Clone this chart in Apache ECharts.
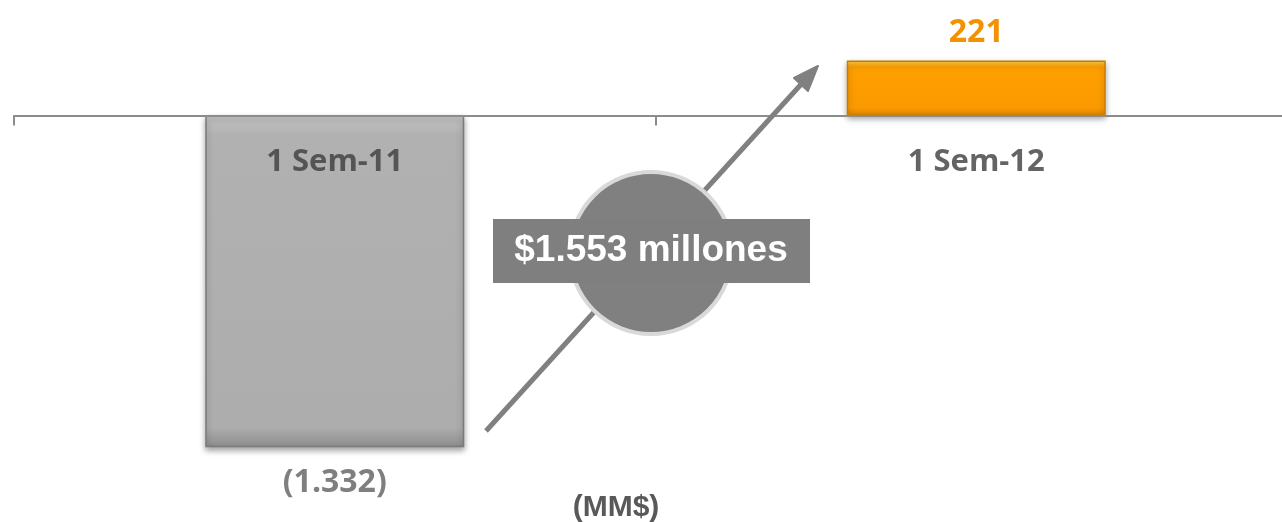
<!DOCTYPE html>
<html>
<head>
<meta charset="utf-8">
<script src="https://cdn.jsdelivr.net/npm/echarts@6/dist/echarts.min.js"></script>
<style>
html,body{margin:0;padding:0;background:#fff;}
#c{width:1282px;height:522px;}
</style>
</head>
<body>
<div id="c"></div>
<script>
const categories = ['1 Sem-11', '1 Sem-12'];
const values = [-1332, 221];
const valueLabels = ['(1.332)', '221'];
const changeLabel = '$1.553 millones';
const unitLabel = '(MM$)';

const chart = echarts.init(document.getElementById('c'));

const greyFill = {type:'linear',x:0,y:0,x2:0,y2:1,colorStops:[{offset:0,color:'#c4c4c4'},{offset:0.06,color:'#b1b1b1'},{offset:0.94,color:'#adadad'},{offset:1,color:'#8e8e8e'}]};
const orangeFill = {type:'linear',x:0,y:0,x2:0,y2:1,colorStops:[{offset:0,color:'#ffcf4a'},{offset:0.12,color:'#ffa000'},{offset:0.85,color:'#fb9a00'},{offset:1,color:'#e08600'}]};

const catFont = {fontFamily:'"Open Sans"', fontWeight:'bold', fontSize:31};
const numFont = {fontFamily:'"Open Sans"', fontWeight:'bold', fontSize:32};

const option = {
  animation:false,
  grid:{left:14, top:16, width:1283, height:498, containLabel:false, outerBoundsMode:'none'},
  xAxis:{
    type:'category',
    data:categories,
    z:10,
    axisLine:{onZero:true, lineStyle:{color:'#8c8c8c', width:2}},
    axisTick:{show:true, length:10, lineStyle:{color:'#8c8c8c', width:2}},
    axisLabel:{show:false},
    splitLine:{show:false}
  },
  yAxis:{
    type:'value', min:-1600, max:400, show:false, splitLine:{show:false}
  },
  series:[{
    type:'bar',
    barWidth:259,
    data:[
      {value:values[0], itemStyle:{color:greyFill, borderColor:'#7a7a7a', borderWidth:1.5, shadowColor:'rgba(0,0,0,0.35)', shadowBlur:6, shadowOffsetY:3},
       label:Object.assign({show:true, position:'bottom', distance:20, formatter:valueLabels[0], color:'#7f7f7f'}, numFont)},
      {value:values[1], itemStyle:{color:orangeFill, borderColor:'#c97c00', borderWidth:1.5, shadowColor:'rgba(0,0,0,0.35)', shadowBlur:6, shadowOffsetY:3},
       label:Object.assign({show:true, position:'top', distance:12, formatter:valueLabels[1], color:'#f39200'}, numFont)}
    ]
  },{
    type:'scatter',
    symbolSize:0,
    z:10,
    silent:true,
    data:categories.map(c => [c, 0]),
    label:Object.assign({show:true, position:'bottom', distance:31, formatter:p => p.data[0], color:'#3d3d3d'}, catFont)
  }],
  graphic:[
    {type:'line', z:20, shape:{x1:486,y1:431,x2:805,y2:80}, style:{stroke:'#808080', lineWidth:5}},
    {type:'polygon', z:20, shape:{points:[[818,66],[794,78],[808,91]]}, style:{fill:'#808080', stroke:'#808080', lineWidth:2, lineJoin:'round'}},
    {type:'circle', z:21, shape:{cx:651,cy:253,r:81}, style:{fill:'#808080', stroke:'#d9d9d9', lineWidth:4}},
    {type:'rect', z:22, shape:{x:493,y:219,width:317,height:64}, style:{fill:'#7f7f7f'}},
    {type:'text', z:23, x:651, y:251, style:{text:changeLabel, fill:'#ffffff', font:'bold 37px "Liberation Sans", Arial', align:'center', verticalAlign:'middle'}},
    {type:'text', z:23, x:616, y:508, style:{text:unitLabel, fill:'#595959', font:'bold 30px "Liberation Sans", Arial', align:'center', verticalAlign:'middle'}}
  ]
};
chart.setOption(option);
</script>
</body>
</html>
